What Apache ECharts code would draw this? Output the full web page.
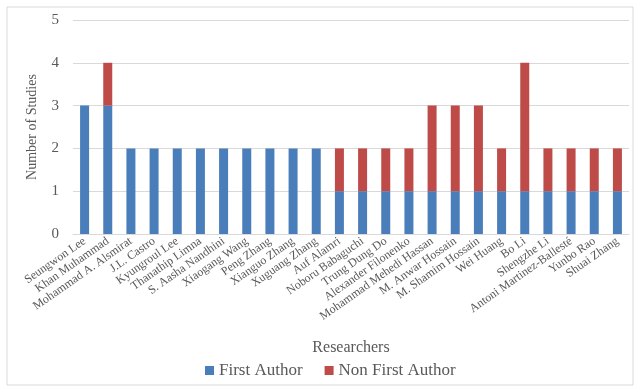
<!DOCTYPE html>
<html>
<head>
<meta charset="utf-8">
<script src="https://cdn.jsdelivr.net/npm/echarts@6/dist/echarts.min.js"></script>
<style>
  html, body { margin: 0; padding: 0; background: #fff; }
  #chart { width: 640px; height: 390px; }
</style>
</head>
<body>
<div id="chart"></div>
<script>
var researchers = ['Seungwon Lee', 'Khan Muhammad', 'Mohammad A. Alsmirat', 'J.L. Castro', 'Kyungroul Lee',
  'Thanathip Limna', 'S. Aasha Nandhini', 'Xiaogang Wang', 'Peng Zhang', 'Xianguo Zhang', 'Xuguang Zhang',
  'Auf Alamri', 'Noboru Babaguchi', 'Trung Dung Do', 'Alexander Filonenko', 'Mohammad Mehedi Hassan',
  'M. Anwar Hossain', 'M. Shamim Hossain', 'Wei Huang', 'Bo Li', 'Shengzhe Li',
  'Antoni Martinez-Ballesté', 'Yunbo Rao', 'Shuai Zhang'];
var firstAuthor = [3, 3, 2, 2, 2, 2, 2, 2, 2, 2, 2, 1, 1, 1, 1, 1, 1, 1, 1, 1, 1, 1, 1, 1];
var nonFirstAuthor = [0, 1, 0, 0, 0, 0, 0, 0, 0, 0, 0, 1, 1, 1, 1, 2, 2, 2, 1, 3, 1, 1, 1, 1];
var yTicks = [0, 1, 2, 3, 4, 5];

var font = '"Liberation Serif", "DejaVu Serif", serif';
var chart = echarts.init(document.getElementById('chart'));

var option = {
  animation: false,
  textStyle: { fontFamily: font },
  graphic: [{
    type: 'rect',
    shape: { x: 7, y: 7, width: 626, height: 378 },
    style: { fill: 'none', stroke: '#d9d9d9', lineWidth: 1 },
    silent: true
  }],
  grid: { left: 73, right: 11, top: 20, bottom: 156 },
  legend: {
    bottom: 6,
    left: 200,
    itemWidth: 9,
    itemHeight: 9,
    itemGap: 22,
    icon: 'rect',
    textStyle: { fontFamily: font, fontSize: 17, color: '#595959' },
    data: ['First Author', 'Non First Author']
  },
  xAxis: {
    type: 'category',
    data: researchers,
    name: 'Researchers',
    nameLocation: 'middle',
    nameGap: 106,
    nameTextStyle: { fontFamily: font, fontSize: 16, color: '#595959' },
    axisLine: { lineStyle: { color: '#d9d9d9' } },
    axisTick: { show: false },
    axisLabel: {
      interval: 0,
      rotate: 35,
      fontSize: 12,
      color: '#595959',
      fontFamily: font,
      margin: 6
    }
  },
  yAxis: {
    type: 'value',
    min: yTicks[0],
    max: yTicks[yTicks.length - 1],
    interval: 1,
    name: 'Number of Studies',
    nameLocation: 'middle',
    nameGap: 34,
    nameTextStyle: { fontFamily: font, fontSize: 14, color: '#595959' },
    axisLine: { show: false },
    axisTick: { show: false },
    splitLine: { lineStyle: { color: '#d9d9d9' } },
    axisLabel: { fontSize: 15, color: '#595959', fontFamily: font, margin: 14 }
  },
  series: [
    {
      name: 'First Author',
      type: 'bar',
      stack: 'total',
      barWidth: 9,
      itemStyle: { color: '#4a7ebb' },
      data: firstAuthor
    },
    {
      name: 'Non First Author',
      type: 'bar',
      stack: 'total',
      barWidth: 9,
      itemStyle: { color: '#be4b48' },
      data: nonFirstAuthor
    }
  ]
};

chart.setOption(option);
</script>
</body>
</html>
